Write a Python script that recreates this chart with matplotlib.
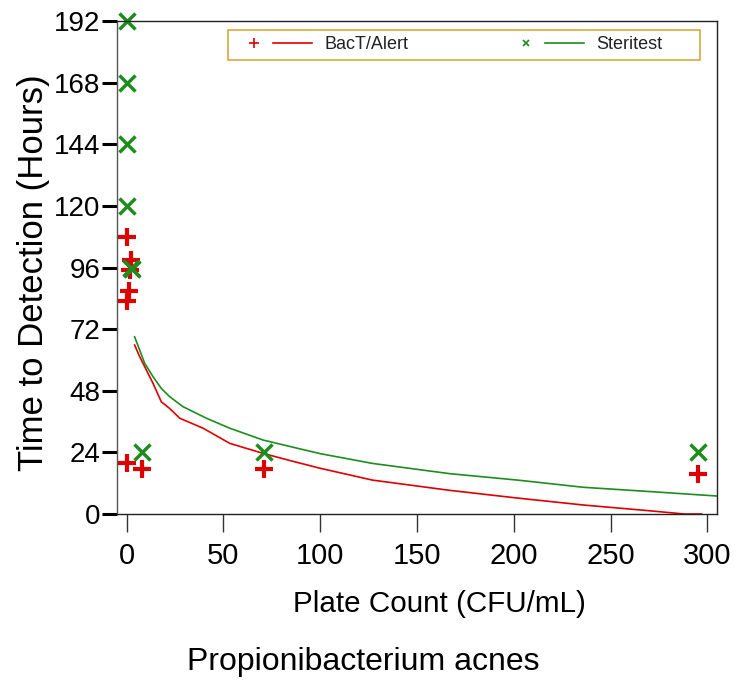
import matplotlib
matplotlib.use("Agg")
import matplotlib.pyplot as plt
from matplotlib.lines import Line2D
from matplotlib.patches import Rectangle
from matplotlib.legend_handler import HandlerTuple

plt.rcParams['font.family'] = ['Liberation Sans', 'DejaVu Sans']

# ---- data ----
bact_x = [0, 2, 1.5, 1, 0, 0, 8, 71, 295]
bact_y = [108, 99, 95, 87, 83, 20, 17.5, 17.5, 15.5]
steri_x = [0, 0, 0, 0, 2, 2.5, 8, 71, 295]
steri_y = [192, 168, 144, 120, 96, 95.5, 24, 24, 24]

bact_fit_x = [4.1, 6.7, 9.3, 13.6, 17.9, 22.2, 27.4, 39.5, 53.3, 70.5, 86.0, 100,
              127, 167, 202, 236, 271, 288, 297]
bact_fit_y = [65.8, 61.3, 57.4, 50.9, 43.7, 41.1, 37.3, 33.4, 27.5, 23.6, 20.5, 17.8,
              13.2, 9.2, 6.2, 3.5, 1.2, 0, 0]
steri_fit_x = [4.1, 6.7, 9.3, 13.6, 17.9, 22.2, 29.1, 41.2, 53.3, 70.5, 86.0, 100,
               127, 167, 202, 236, 271, 305]
steri_fit_y = [69.0, 63.9, 58.7, 53.5, 48.9, 45.7, 41.8, 37.3, 33.4, 28.8, 26.0, 23.5,
               19.7, 15.7, 13.2, 10.4, 8.7, 7.0]

x_ticks = [0, 50, 100, 150, 200, 250, 300]
y_ticks = [0, 24, 48, 72, 96, 120, 144, 168, 192]

RED = '#dd0000'
GREEN = '#1e8c1e'

fig = plt.figure(figsize=(7.46, 6.82), dpi=100)
ax = fig.add_axes([117/746, 1-514/682, 600/746, 493/682])

ax.plot(bact_fit_x, bact_fit_y, color=RED, lw=1.2)
ax.plot(steri_fit_x, steri_fit_y, color=GREEN, lw=1.2)
ax.plot(bact_x, bact_y, linestyle='none', marker='+', color=RED, ms=13, mew=3, clip_on=False)
ax.plot(steri_x, steri_y, linestyle='none', marker='x', color=GREEN, ms=11, mew=2.5, clip_on=False)

ax.set_xlim(-5, 305)
ax.set_ylim(0, 192)
ax.set_xticks(x_ticks)
ax.set_yticks(y_ticks)
ax.tick_params(axis='y', direction='out', length=11, width=2.2, pad=1, labelsize=20, color='black')
ax.tick_params(axis='x', direction='out', length=13, width=1, pad=7, labelsize=21, color='#333333')
for s in ax.spines.values():
    s.set_linewidth(1.0)
    s.set_color('#222222')
ax.spines['left'].set_color('#555555')

ax.set_xlabel('Plate Count (CFU/mL)', fontsize=21.3)
ax.xaxis.set_label_coords((439-117)/600, (514-611.7)/493)
ax.xaxis.label.set_va('baseline')
ax.set_ylabel('Time to Detection (Hours)', fontsize=25)
ax.yaxis.set_label_coords((34-117)/600, (514-272.5)/493)
ax.yaxis.label.set_va('center')

fig.text(363/746, (682-670)/682, 'Propionibacterium acnes', fontsize=23,
         ha='center', va='baseline')

# legend (entries) + its box
h1 = (Line2D([], [], linestyle='none', marker='+', color=RED, ms=7, mew=1.2),
      Line2D([], [], color=RED, lw=1.2))
h2 = (Line2D([], [], linestyle='none', marker='x', color=GREEN, ms=5, mew=1.2),
      Line2D([], [], color=GREEN, lw=1.2))
leg = ax.legend([h1, h2], ['BacT/Alert', 'Steritest'],
                handler_map={tuple: HandlerTuple(ndivide=None, pad=0)},
                loc='upper left', bbox_to_anchor=((228-117)/600, (514-30)/493),
                ncol=2, fontsize=13, frameon=False,
                handlelength=4.3, handletextpad=0.7, borderpad=0.35,
                columnspacing=5.4, borderaxespad=0)
for t in leg.get_texts():
    t.set_color('#222222')
ax.add_patch(Rectangle(((228-117)/600, (514-60)/493), 472/600, 30/493,
                       transform=ax.transAxes, fill=False, edgecolor='#d8a83c',
                       linewidth=1.2, clip_on=False, zorder=5))

fig.savefig('out.png', dpi=100)
